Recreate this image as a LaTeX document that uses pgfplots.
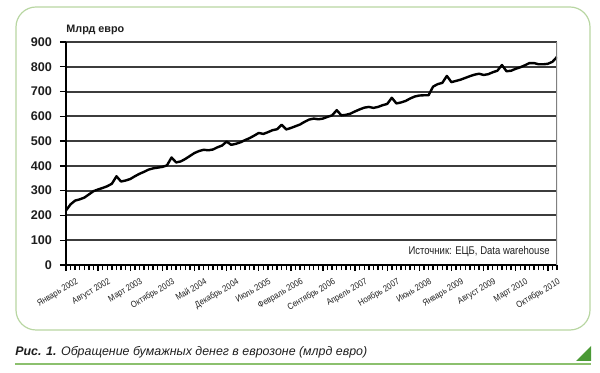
\documentclass[border=0pt]{standalone}
\usepackage{fontspec}
\setmainfont{Liberation Sans}
\newfontfamily\narrowfont{Liberation Sans}[FakeStretch=0.85]
\usepackage{pgfplots}
\pgfplotsset{compat=1.18}
\definecolor{gridc}{HTML}{3C3C3C}
\definecolor{framec}{HTML}{B8D6A2}
\definecolor{capline}{HTML}{8CC06E}
\definecolor{tri}{HTML}{4A9A35}
\definecolor{txt}{HTML}{1E1E1E}
\begin{document}
\begin{tikzpicture}
\useasboundingbox (0,0) rectangle (300pt,-186.5pt);
\draw[framec, line width=0.6pt, rounded corners=10pt] (8pt,-3.5pt) rectangle (295pt,-165pt);
\begin{axis}[
  at={(33pt,-132.5pt)}, anchor=south west,
  scale only axis, width=245.5pt, height=111.5pt,
  xmin=0, xmax=107, ymin=0, ymax=900,
  axis lines*=left,
  axis line style={black, line width=1.2pt},
  ytick={0,100,...,900},
  ymajorgrids, major grid style={gridc, line width=1pt},
  xtick={0,7,...,105},
  minor xtick={0,1,...,107},
  xticklabels={Январь 2002, Август 2002, Март 2003, Октябрь 2003, Май 2004, Декабрь 2004, Июль 2005, Февраль 2006, Сентябрь 2006, Апрель 2007, Ноябрь 2007, Июнь 2008, Январь 2009, Август 2009, Март 2010, Октябрь 2010},
  tick align=outside,
  major tick length=3pt, minor tick length=2.6pt,
  tick style={black, line width=0.7pt},
  /pgf/number format/assume math mode=true,
  yticklabel style={font=\bfseries\fontsize{6.3}{7}\selectfont, text=txt, xshift=-0.5pt},
  xticklabel style={font=\narrowfont\fontsize{4.5}{5}\selectfont, text=txt, xshift=5pt, yshift=-2.5pt, rotate=30, anchor=north east, inner sep=0.5pt},
]
\addplot[black, line width=1.2pt, line join=round] coordinates {
(0,220)(1,245)(2,260)(3,265)(4,272)(5,285)(6,298)(7,305)(8,311)(9,318)(10,328)(11,358)
(12,337)(13,341)(14,347)(15,358)(16,368)(17,376)(18,385)(19,390)(20,393)(21,396)(22,402)(23,434)
(24,414)(25,418)(26,428)(27,440)(28,452)(29,460)(30,465)(31,463)(32,466)(33,475)(34,482)(35,498)
(36,485)(37,489)(38,495)(39,504)(40,512)(41,522)(42,533)(43,529)(44,536)(45,544)(46,548)(47,566)
(48,547)(49,553)(50,560)(51,567)(52,578)(53,587)(54,591)(55,588)(56,591)(57,598)(58,604)(59,625)
(60,604)(61,606)(62,611)(63,620)(64,628)(65,635)(66,638)(67,634)(68,638)(69,645)(70,650)(71,675)
(72,652)(73,656)(74,662)(75,672)(76,680)(77,684)(78,685)(79,685)(80,720)(81,730)(82,735)(83,763)
(84,738)(85,743)(86,748)(87,755)(88,762)(89,768)(90,772)(91,767)(92,770)(93,778)(94,784)(95,807)
(96,782)(97,784)(98,792)(99,798)(100,806)(101,815)(102,815)(103,810)(104,810)(105,812)(106,820)(107,840)
};
\draw[gray, line width=0.8pt] (rel axis cs:1,0) -- (rel axis cs:1,1);
\end{axis}
\node[anchor=west, inner sep=0pt, text=txt, font=\bfseries\fontsize{5.4}{6}\selectfont] at (33pt,-15pt) {Млрд евро};
\node[anchor=east, inner sep=0pt, text=txt, font=\narrowfont\fontsize{5.6}{6}\selectfont] at (275pt,-125.7pt) {Источник: ЕЦБ, Data warehouse};
\node[anchor=west, inner sep=0pt, text=txt, font=\fontsize{6.2}{7}\selectfont] at (7.5pt,-176pt) {\textbf{\itshape Рис. 1.} \itshape Обращение бумажных денег в еврозоне (млрд евро)};
\draw[capline, line width=0.8pt] (7.5pt,-182pt) -- (295.5pt,-182pt);
\fill[tri] (288pt,-180.5pt) -- (295.5pt,-180.5pt) -- (295.5pt,-173pt) -- cycle;
\end{tikzpicture}
\end{document}
